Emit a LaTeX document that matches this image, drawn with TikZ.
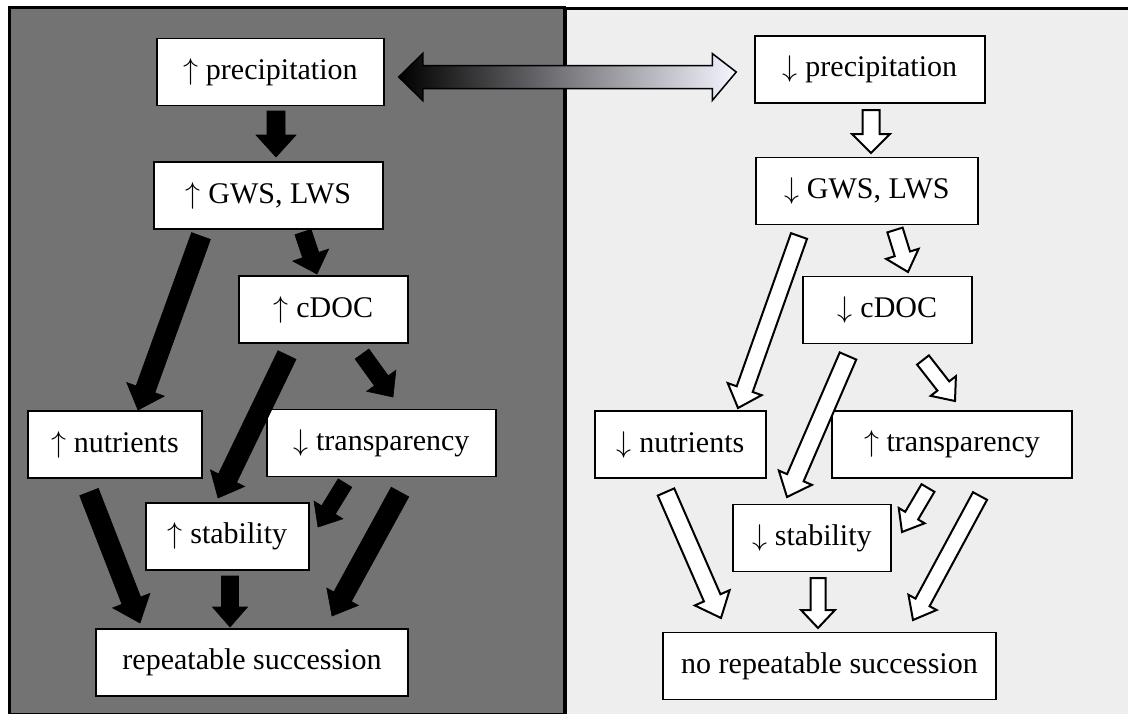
\RequirePackage{fix-cm}
\documentclass[tikz,border=0pt]{standalone}
\usepackage{fontspec}
\setmainfont{Liberation Serif}
\usetikzlibrary{calc}
\definecolor{dgray}{RGB}{115,115,115}
\definecolor{lgray}{RGB}{238,238,238}
\newcommand{\UAr}{$\uparrow$}
\newcommand{\DAr}{$\downarrow$}
\tikzset{
  box/.style={draw=black, fill=white, line width=1.5pt, inner sep=0pt,
    minimum height=67pt, font=\fontsize{30}{36}\selectfont},
  fatarrow/.style n args={3}{to path={
    let \p1=(\tikztostart), \p2=(\tikztotarget),
        \n1={atan2(\y2-\y1,\x2-\x1)},
        \n2={veclen(\x2-\x1,\y2-\y1)},
        \n3={atan2(#2,#3)}, \n4={veclen(#2,#3)} in
    (\p1) ++(\n1+90:#1) -- ++(\n1:\n2-#3) -- ++(\n1+90:#2-#1)
      -- ++(\n1-\n3:\n4) -- ++(\n1+180+\n3:\n4) -- ++(\n1+90:#2-#1)
      -- ++(\n1+180:\n2-#3) -- cycle}},
  barrow/.style={fill=black, draw=black, line width=0.6pt, line join=miter},
  warrow/.style={fill=white, draw=black, line width=2pt, line join=miter},
  dblarrow/.style={to path={
    let \p1=(\tikztostart), \p2=(\tikztotarget) in
    (\p1) -- (\x1+24,\y1+23.5) -- (\x1+24,\y1+11.5) -- (\x2-24,\y1+11.5)
      -- (\x2-24,\y1+23.5) -- (\p2) -- (\x2-24,\y1-23.5) -- (\x2-24,\y1-11.5)
      -- (\x1+24,\y1-11.5) -- (\x1+24,\y1-23.5) -- cycle}},
}
\begin{document}
\begin{tikzpicture}[x=1pt,y=1pt]
\useasboundingbox (0,0) rectangle (1128,-713);
\fill[white] (0,0) rectangle (1128,-713);
% panels
\draw[fill=lgray, line width=2.5pt] (566,-8.5) rectangle (1140,-725);
\draw[fill=dgray, line width=3pt] (9.5,-7) rectangle (564.5,-714);

% left nodes
\node[box, minimum width=227pt] (preL) at (270.5,-72) {\UAr{} precipitation};
\node[box, minimum width=229pt] (gwsL) at (268.5,-195.5) {\UAr{} GWS, LWS};
\node[box, minimum width=169pt] (cdocL) at (323.5,-309.5) {\UAr{} cDOC};
\node[box, minimum width=174pt] (nutL) at (115,-444.5) {\UAr{} nutrients};
\node[box, minimum width=229pt] (trL) at (381.5,-443) {\DAr{} transparency};
\node[box, minimum width=163pt] (stabL) at (227.5,-536.5) {\UAr{} stability};
\node[box, minimum width=312pt] (repL) at (252,-662.5) {repeatable succession};

% right nodes
\node[box, minimum width=230pt] (preR) at (870,-69.5) {\DAr{} precipitation};
\node[box, minimum width=222pt] (gwsR) at (867,-191) {\DAr{} GWS, LWS};
\node[box, minimum width=169pt] (cdocR) at (887.5,-310) {\DAr{} cDOC};
\node[box, minimum width=171pt] (nutR) at (680.5,-444.5) {\DAr{} nutrients};
\node[box, minimum width=240pt] (trR) at (952,-444.5) {\UAr{} transparency};
\node[box, minimum width=158pt] (stabR) at (812,-538) {\DAr{} stability};
\node[box, minimum width=333pt] (norepR) at (829.5,-666) {no repeatable succession};

% double arrow
\path[draw=black, line width=1.5pt, line join=miter, shading=axis,
  left color=black, middle color=gray!55, right color=white!96!blue]
  ($(preL.east)+(14,-5)$) to[dblarrow] ($(preR.west)+(-18,-2.5)$);

% left arrows
\draw[barrow, fatarrow={9}{20}{22}] ($(preL)+(5.5,-39)$) to ($(gwsL)+(7.5,38.5)$);
\draw[barrow, fatarrow={8.5}{19}{20}] ($(gwsL)+(34.5,-36.5)$) to ($(cdocL)+(-6.5,35.5)$);
\draw[barrow, fatarrow={10}{20}{22}] ($(gwsL)+(-67.5,-40.5)$) to ($(nutL)+(23,34.5)$);
\draw[barrow, fatarrow={8.5}{18}{20}] ($(cdocL)+(38.5,-44.5)$) to ($(trL)+(11.5,46)$);
\draw[barrow, fatarrow={10}{19}{22}] ($(cdocL)+(-36.5,-45.5)$) to ($(stabL)+(-9.5,38.5)$);
\draw[barrow, fatarrow={8}{17}{20}] ($(trL)+(-36.5,-40)$) to ($(stabL)+(90.5,9.5)$);
\draw[barrow, fatarrow={10}{20}{24}] ($(nutL)+(-26,-47.5)$) to ($(repL)+(-112,39.5)$);
\draw[barrow, fatarrow={8.5}{17.5}{20}] ($(stabL)+(2.5,-39.5)$) to ($(repL)+(-22,35.5)$);
\draw[barrow, fatarrow={10}{18}{22}] ($(trL)+(18.5,-49)$) to ($(repL)+(80,46.5)$);

% right arrows
\draw[warrow, fatarrow={8.5}{19}{19}] ($(preR)+(1,-40.5)$) to ($(gwsR)+(4,38)$);
\draw[warrow, fatarrow={8}{17}{19}] ($(gwsR)+(28,-39)$) to ($(cdocR)+(20.5,38)$);
\draw[warrow, fatarrow={8.5}{18}{20}] ($(gwsR)+(-68,-45)$) to ($(nutR)+(57.5,36.5)$);
\draw[warrow, fatarrow={7.5}{16}{19}] ($(cdocR)+(35.5,-50)$) to ($(trR)+(3,43.5)$);
\draw[warrow, fatarrow={9}{18}{21}] ($(cdocR)+(-39.5,-46)$) to ($(stabR)+(-25,41)$);
\draw[warrow, fatarrow={7.5}{15}{19}] ($(trR)+(-24,-43.5)$) to ($(stabR)+(90,6)$);
\draw[warrow, fatarrow={9}{19}{22}] ($(nutR)+(-14.5,-47.5)$) to ($(norepR)+(-108.5,48)$);
\draw[warrow, fatarrow={7.5}{17}{18}] ($(stabR)+(6,-40)$) to ($(norepR)+(-11.5,38)$);
\draw[warrow, fatarrow={8}{16}{20}] ($(trR)+(28,-51.5)$) to ($(norepR)+(83.5,46)$);
\end{tikzpicture}
\end{document}
